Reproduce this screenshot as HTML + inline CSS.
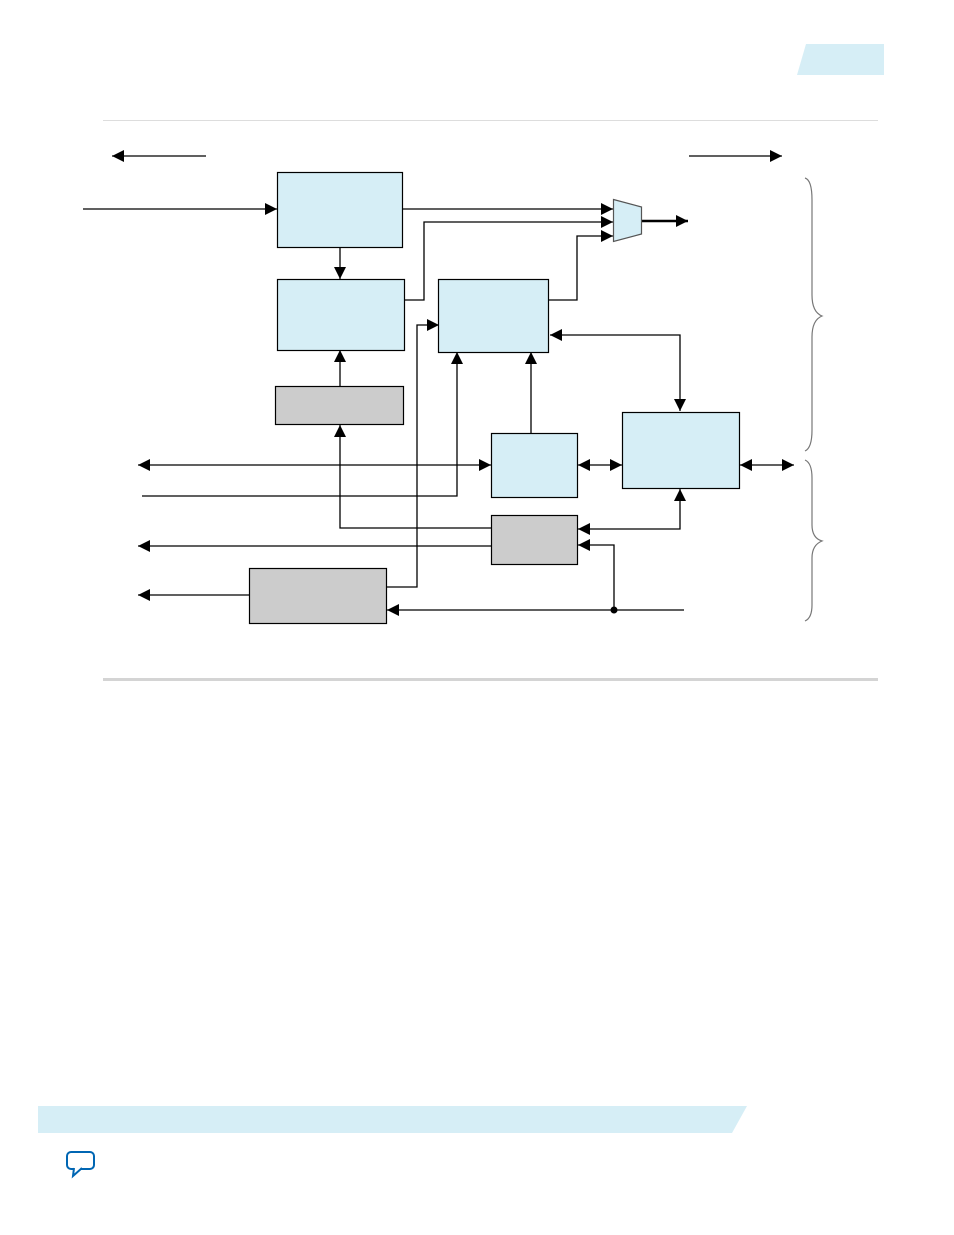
<!DOCTYPE html>
<html><head><meta charset="utf-8"><style>
html,body{margin:0;padding:0;background:#fff;}
body{width:954px;height:1235px;position:relative;overflow:hidden;font-family:"Liberation Sans",sans-serif;}
</style></head><body>
<svg width="954" height="1235" viewBox="0 0 954 1235" xmlns="http://www.w3.org/2000/svg" style="position:absolute;left:0;top:0">
<defs>
<marker id="a" markerWidth="12" markerHeight="12" refX="12" refY="6" orient="auto" markerUnits="userSpaceOnUse">
<path d="M0,0 L12,6 L0,12 z" fill="#000"/></marker>
<marker id="s" markerWidth="12" markerHeight="12" refX="0" refY="6" orient="auto" markerUnits="userSpaceOnUse">
<path d="M12,0 L0,6 L12,12 z" fill="#000"/></marker>
</defs>
<polygon points="806,44 884,44 884,75 797,75" fill="#d6eef6"/>
<line x1="103" y1="120.5" x2="878" y2="120.5" stroke="#ddd" stroke-width="1"/>
<line x1="103" y1="679.5" x2="878" y2="679.5" stroke="#d4d4d4" stroke-width="3"/>
<polygon points="38,1106 747,1106 732,1133 38,1133" fill="#d6eef6"/>
<g fill="none" stroke="#0066b3" stroke-width="2"><rect x="67" y="1152" width="27" height="17" rx="4"/></g>
<path d="M74,1168 L73,1176 L82,1168" fill="#fff" stroke="#0066b3" stroke-width="2"/>
<g stroke="#000" stroke-width="1.3" fill="none">
<line x1="206" y1="156" x2="112" y2="156" marker-end="url(#a)"/>
<line x1="689" y1="156" x2="782" y2="156" marker-end="url(#a)"/>
<line x1="83" y1="209" x2="277" y2="209" marker-end="url(#a)"/>
<line x1="403" y1="209" x2="613" y2="209" marker-end="url(#a)"/>
<polyline points="405,300 424,300 424,222 613,222" marker-end="url(#a)"/>
<polyline points="549,300 577,300 577,236 613,236" marker-end="url(#a)"/>
<line x1="642" y1="221" x2="688" y2="221" stroke-width="2.5" marker-end="url(#a)"/>
<line x1="340" y1="248" x2="340" y2="279" marker-end="url(#a)"/>
<line x1="340" y1="386" x2="340" y2="350" marker-end="url(#a)"/>
<polyline points="387,587 417,587 417,325 439,325" marker-end="url(#a)"/>
<polyline points="142,496 457,496 457,352" marker-end="url(#a)"/>
<line x1="531" y1="433" x2="531" y2="352" marker-end="url(#a)"/>
<polyline points="550,335 680,335 680,411" marker-start="url(#s)" marker-end="url(#a)"/>
<line x1="138" y1="465" x2="491" y2="465" marker-start="url(#s)" marker-end="url(#a)"/>
<line x1="578" y1="465" x2="622" y2="465" marker-start="url(#s)" marker-end="url(#a)"/>
<line x1="740" y1="465" x2="794" y2="465" marker-start="url(#s)" marker-end="url(#a)"/>
<polyline points="491,528 340,528 340,425" marker-end="url(#a)"/>
<polyline points="578,529 680,529 680,489" marker-start="url(#s)" marker-end="url(#a)"/>
<line x1="491" y1="546" x2="138" y2="546" marker-end="url(#a)"/>
<polyline points="614,610 614,545 578,545" marker-end="url(#a)"/>
<line x1="684" y1="610" x2="387" y2="610" marker-end="url(#a)"/>
<line x1="249" y1="595" x2="138" y2="595" marker-end="url(#a)"/>
</g>
<circle cx="614" cy="610" r="3.5" fill="#000"/>
<g stroke="#000" stroke-width="1.2">
<rect x="277.5" y="172.5" width="125" height="75" fill="#d6eef6"/>
<rect x="277.5" y="279.5" width="127" height="71" fill="#d6eef6"/>
<rect x="438.5" y="279.5" width="110" height="73" fill="#d6eef6"/>
<rect x="491.5" y="433.5" width="86" height="64" fill="#d6eef6"/>
<rect x="622.5" y="412.5" width="117" height="76" fill="#d6eef6"/>
<rect x="275.5" y="386.5" width="128" height="38" fill="#ccc"/>
<rect x="491.5" y="515.5" width="86" height="49" fill="#ccc"/>
<rect x="249.5" y="568.5" width="137" height="55" fill="#ccc"/>
<polygon points="613.5,199.5 641.5,207 641.5,234 613.5,241.5" fill="#d6eef6" stroke="#555"/>
</g>
<g fill="none" stroke="#777" stroke-width="1.2">
<path d="M805,178 Q812,180 812,200 L812,295 Q812,312 822,316 Q812,320 812,337 L812,430 Q812,448 805,451"/>
<path d="M805,460 Q812,463 812,478 L812,525 Q812,538 822,541 Q812,545 812,558 L812,605 Q812,618 805,621"/>
</g>
</svg>
</body></html>
